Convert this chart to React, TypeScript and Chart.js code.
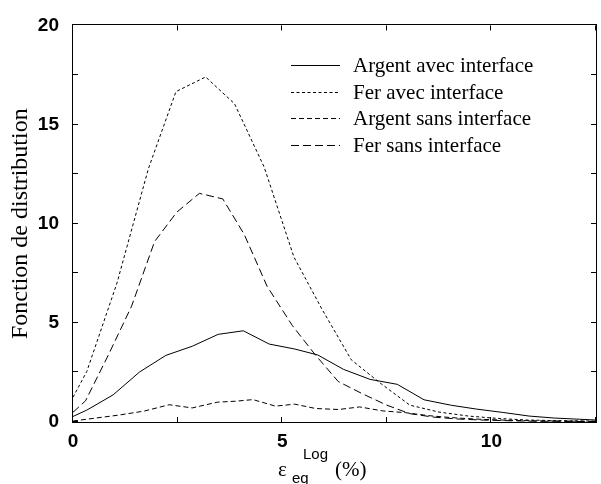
import React, { useEffect, useRef } from "react";
import { Chart, registerables } from "chart.js";

Chart.register(...registerables);

// Argent avec interface (solid)
const agAvecX = [0, 0.33, 0.96, 1.59, 2.22, 2.85, 3.47, 4.07, 4.69, 5.3, 5.85, 6.47, 7.1, 7.75, 8.39, 9.05, 9.65, 10.28, 10.9, 11.5, 12.1, 12.5];
const agAvecY = [0.28, 0.6, 1.37, 2.52, 3.36, 3.82, 4.42, 4.6, 3.93, 3.68, 3.38, 2.65, 2.15, 1.9, 1.12, 0.84, 0.65, 0.48, 0.3, 0.2, 0.14, 0.1];

// Fer avec interface (dotted)
const feAvecX = [0, 0.33, 1.05, 1.8, 2.46, 3.17, 3.86, 4.57, 5.28, 5.95, 6.65, 7.32, 8.05, 8.75, 9.45, 10.15, 10.85, 11.55, 12.25, 12.5];
const feAvecY = [1.25, 2.55, 7.0, 12.76, 16.66, 17.4, 16.05, 12.85, 8.32, 5.69, 3.14, 2.0, 0.85, 0.5, 0.3, 0.18, 0.1, 0.07, 0.05, 0.04];

// Argent sans interface (short dash)
const agSansX = [0, 0.55, 1.1, 1.7, 2.3, 2.85, 3.45, 3.9, 4.3, 4.84, 5.3, 5.8, 6.35, 6.85, 7.4, 7.95, 8.5, 9.05, 9.6, 10.2, 11, 12.5];
const agSansY = [0.05, 0.2, 0.35, 0.55, 0.87, 0.71, 1.0, 1.05, 1.13, 0.8, 0.9, 0.68, 0.63, 0.76, 0.56, 0.47, 0.32, 0.22, 0.15, 0.1, 0.06, 0.03];

// Fer sans interface (long dash)
const feSansX = [0, 0.3, 0.85, 1.4, 1.95, 2.48, 3.02, 3.58, 4.09, 4.64, 5.24, 5.79, 6.34, 6.93, 7.5, 8.05, 8.6, 9.2, 9.75, 10.3, 11, 12.5];
const feSansY = [0.49, 1.07, 3.4, 5.84, 9.1, 10.58, 11.53, 11.25, 9.47, 6.84, 4.87, 3.39, 2.04, 1.41, 0.85, 0.42, 0.25, 0.15, 0.1, 0.07, 0.04, 0.02];

const seriesNames = ["Argent avec interface", "Fer avec interface", "Argent sans interface", "Fer sans interface"];
const seriesDash: number[][] = [[], [3, 2.5], [5, 3], [8, 4]];

const xTicks = [0, 2.5, 5, 7.5, 10, 12.5];
const yTicks = [0, 2.5, 5, 7.5, 10, 12.5, 15, 17.5, 20];

const yTitle = "Fonction de distribution";

const toPts = (xs: number[], ys: number[]) => xs.map((x, i) => ({ x, y: ys[i] }));

const decorPlugin = {
  id: "decor",
  afterDraw(chart: any) {
    const ctx = chart.ctx as CanvasRenderingContext2D;
    const { left, right, top, bottom } = chart.chartArea;
    const xs = chart.scales.x;
    const ys = chart.scales.y;
    ctx.save();
    ctx.strokeStyle = "#000";
    ctx.lineWidth = 1;
    ctx.setLineDash([]);
    // frame
    ctx.strokeRect(Math.round(left) - 0.5, Math.round(top) - 0.5, Math.round(right - left) + 1, Math.round(bottom - top) + 1);
    // inward ticks
    const tl = 5;
    ctx.beginPath();
    xTicks.forEach((v) => {
      const px = Math.round(xs.getPixelForValue(v)) - 0.5;
      ctx.moveTo(px, bottom);
      ctx.lineTo(px, bottom - tl);
      ctx.moveTo(px, top);
      ctx.lineTo(px, top + tl);
    });
    yTicks.forEach((v) => {
      const py = Math.round(ys.getPixelForValue(v)) - 0.5;
      ctx.moveTo(left, py);
      ctx.lineTo(left + tl, py);
      ctx.moveTo(right, py);
      ctx.lineTo(right - tl, py);
    });
    ctx.stroke();

    // legend
    ctx.fillStyle = "#000";
    ctx.font = "21px 'Liberation Serif'";
    ctx.textAlign = "left";
    ctx.textBaseline = "alphabetic";
    seriesNames.forEach((name, i) => {
      const base = 72 + i * 26.7;
      const ly = Math.round(base - 7) + 0.5;
      ctx.setLineDash(seriesDash[i]);
      ctx.beginPath();
      ctx.moveTo(291, ly);
      ctx.lineTo(340, ly);
      ctx.stroke();
      ctx.setLineDash([]);
      ctx.fillText(name, 353, base);
    });

    // y title
    ctx.save();
    ctx.translate(21, (top + bottom) / 2);
    ctx.rotate(-Math.PI / 2);
    ctx.textAlign = "center";
    ctx.textBaseline = "middle";
    ctx.font = "24px 'Liberation Serif'";
    ctx.fillText(yTitle, 0, 0);
    ctx.restore();

    // x title: epsilon_eq^Log (%)
    ctx.textAlign = "left";
    ctx.textBaseline = "alphabetic";
    ctx.font = "21px 'Liberation Serif'";
    ctx.fillText("ε", 278, 476);
    ctx.font = "15px 'Liberation Sans'";
    ctx.fillText("eq", 292, 483);
    ctx.fillText("Log", 303, 459);
    ctx.font = "21px 'Liberation Serif'";
    ctx.fillText("(%)", 335, 476);
    ctx.restore();
  },
};

export default function App() {
  const ref = useRef<HTMLCanvasElement | null>(null);
  useEffect(() => {
    if (!ref.current) return;
    const tickFont = { family: "'Liberation Sans', Arial, sans-serif", weight: "bold" as const, size: 19 };
    const mk = (label: string, pts: any[], dash: number[]) => ({
      label,
      data: pts,
      borderColor: "#000",
      borderWidth: 1,
      borderDash: dash,
      pointRadius: 0,
      tension: 0,
      fill: false,
    });
    const chart = new Chart(ref.current, {
      type: "line",
      data: {
        datasets: [
          mk(seriesNames[0], toPts(agAvecX, agAvecY), seriesDash[0]),
          mk(seriesNames[1], toPts(feAvecX, feAvecY), seriesDash[1]),
          mk(seriesNames[2], toPts(agSansX, agSansY), seriesDash[2]),
          mk(seriesNames[3], toPts(feSansX, feSansY), seriesDash[3]),
        ],
      },
      options: {
        animation: false,
        responsive: false,
        devicePixelRatio: 1,
        layout: { padding: { top: 17, right: 2, left: 0, bottom: 0 } },
        plugins: { legend: { display: false }, tooltip: { enabled: false } },
        scales: {
          x: {
            type: "linear",
            min: 0,
            max: 12.5,
            grid: { display: false, drawTicks: false },
            border: { display: false },
            ticks: {
              stepSize: 2.5,
              autoSkip: false,
              maxRotation: 0,
              padding: 8,
              color: "#000",
              font: tickFont,
              callback: (v: any) => (Number(v) % 5 === 0 ? String(v) : ""),
            },
            afterFit: (s: any) => {
              s.height = 62;
            },
          },
          y: {
            type: "linear",
            min: 0,
            max: 20,
            grid: { display: false, drawTicks: false },
            border: { display: false },
            ticks: {
              stepSize: 2.5,
              autoSkip: false,
              padding: 14,
              color: "#000",
              font: tickFont,
              callback: (v: any) => (Number(v) % 5 === 0 ? String(v) : ""),
            },
            afterFit: (s: any) => {
              s.width = 73;
            },
          },
        },
      },
      plugins: [decorPlugin],
    });
    return () => chart.destroy();
  }, []);
  return (
    <div style={{ position: "absolute", left: 0, top: 0, width: 601, height: 484, overflow: "hidden", background: "#fff" }}>
      <canvas ref={ref} width={604} height={484} style={{ width: 604, height: 484, display: "block" }} />
    </div>
  );
}
